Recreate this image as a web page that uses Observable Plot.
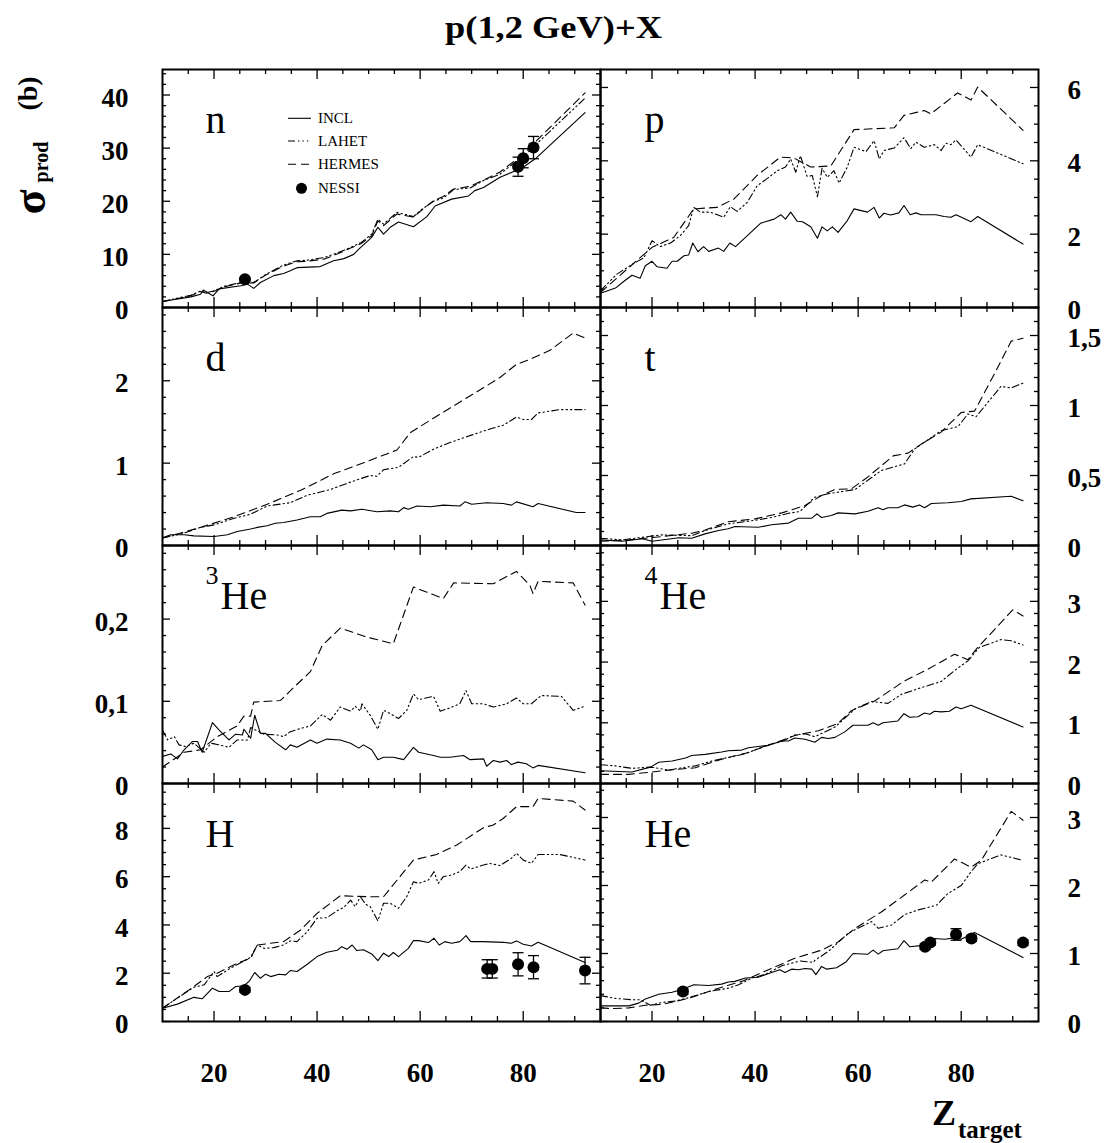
<!DOCTYPE html>
<html><head><meta charset="utf-8">
<script src="https://cdn.jsdelivr.net/npm/d3@7"></script>
<script src="https://cdn.jsdelivr.net/npm/@observablehq/plot@0.6"></script>
<style>
body{margin:0;background:#fff;}
#page{position:relative;width:1108px;height:1143px;overflow:hidden;background:#fff;font-family:"Liberation Serif","Times New Roman",serif;}
#page svg{position:absolute;left:0;top:0;}
</style></head><body><div id="page"></div>
<script>
// ---------- axes ----------
const zDomain = [10, 95];
const xMajor = [20, 40, 60, 80];
const xMinor = [15, 25, 30, 35, 45, 50, 55, 65, 70, 75, 85, 90];
const xTickLabels = ["20", "40", "60", "80"];

const panelNames = ["n", "p", "d", "t", "3He", "4He", "H", "He"];
const yMaxima = [44.8, 6.49, 2.89, 1.70, 0.2895, 3.92, 9.86, 3.5];
const yMajorTicks = [[0,10,20,30,40],[0,2,4,6],[0,1,2],[0,0.5,1,1.5],[0,0.1,0.2],[0,1,2,3],[0,2,4,6,8],[0,1,2,3]];
const yMinorSteps = [2, 0.5, 0.2, 0.1, 0.02, 0.2, 0.5, 0.2];
const seriesNames = ["INCL", "LAHET", "HERMES", "NESSI"];

// ---------- data: [Z_target, sigma_prod (b)] ----------
const n_INCL = [[10,1.13],[13,1.6],[15.5,2.0],[17.4,2.5],[17.9,3.3],[19.8,2.2],[21,3.5],[25.2,4.1],[26.5,4.4],[27.7,3.6],[29,4.7],[31.6,6],[33.5,6.4],[34.8,6.9],[36.1,7.5],[40.6,7.7],[43.2,8.8],[45.2,9.2],[47.1,10],[48.1,11],[50.6,13.2],[51.8,15.1],[52.9,13.8],[54.2,15.1],[55.8,16.1],[58.7,15.2],[61.3,17.1],[62.9,19.1],[66.1,20.4],[69.4,21],[70.6,22],[72.3,22.6],[75.5,24.5],[78.4,25.7],[80,26.4],[82.6,28.2],[92,36.7]];
const n_LAHET = [[10,1.13],[13,1.8],[15.5,2.3],[17.4,3.1],[18.5,2.8],[19.9,3.1],[22,4.0],[25.2,4.7],[27.7,4.7],[30,6.2],[33.5,8.0],[36.1,8.8],[38,8.9],[41.3,9.4],[44,10.3],[46.5,11.3],[48.5,12.2],[50.6,13.8],[51.8,16.6],[52.9,15.7],[55.5,17.9],[58.7,17.1],[60.5,18.6],[62.6,20],[64.5,20.6],[66.5,22.2],[69.7,22.5],[72.3,23.9],[75.5,25.1],[78.7,27.6],[80,28.3],[82.6,30.8],[92,39.4]];
const n_HERMES = [[10,1.1],[13,1.7],[15.5,2.2],[17.4,3.0],[18.5,2.7],[19.9,3.0],[22,3.9],[25.2,4.6],[27.7,4.6],[30,6.1],[33.5,7.8],[36.1,8.6],[38,8.7],[41.3,9.1],[44,10.1],[46.5,11.2],[48.5,12.0],[50.6,13.5],[51.8,16.3],[52.9,15.4],[55.5,17.6],[58.7,17.0],[60.5,18.5],[62.6,20.1],[64.5,20.9],[66.5,22.3],[69.7,22.8],[72.3,24],[75.5,25.5],[78.7,27.9],[80,28.8],[82.6,31.4],[92,40.4]];
const n_NESSI = [[26,5.3,0.3],[79,26.5,1.8],[80,28.1,1.8],[82,30.1,2.1]];

const p_INCL = [[10,0.39],[12.9,0.53],[14.5,0.71],[16.1,0.88],[17.7,0.8],[18.7,1.14],[20,1.26],[21,1.11],[22.9,1.07],[23.9,1.26],[24.9,1.26],[26.2,1.41],[27.1,1.43],[27.9,1.76],[28.9,1.52],[30,1.66],[31,1.53],[32.9,1.62],[33.9,1.53],[35.1,1.76],[36.2,1.66],[38.5,1.96],[41.1,2.3],[43.7,2.41],[45,2.53],[45.9,2.41],[46.9,2.6],[48.2,2.35],[49.2,2.34],[50.8,2.2],[52.1,1.89],[53,2.2],[54,2.09],[55,2.2],[56.1,2.05],[57.9,2.37],[59.2,2.69],[61.8,2.6],[63.1,2.73],[64.1,2.44],[65,2.57],[66.3,2.52],[67.9,2.58],[68.9,2.78],[70.1,2.53],[71.2,2.58],[72.2,2.53],[75.1,2.53],[76.7,2.48],[78,2.46],[79,2.53],[81.9,2.34],[83.2,2.48],[92,1.73]];
const p_LAHET = [[10,0.46],[13.2,0.91],[16.4,1.2],[18.4,1.35],[20,1.82],[21.6,1.66],[23.6,1.76],[25.5,1.96],[27.1,2.23],[28.1,2.73],[29.4,2.6],[31.3,2.6],[33.9,2.46],[35.2,2.75],[36.5,2.62],[38.5,2.87],[40.4,3.32],[42.4,3.52],[44.3,3.73],[45.9,3.83],[46.9,4.05],[47.9,3.69],[48.8,4.14],[50.1,3.57],[51.1,3.6],[52.1,3.02],[53,3.8],[54,3.55],[55.3,3.73],[56.3,3.39],[57.9,3.83],[59.2,4.37],[61.5,4.25],[63.1,4.55],[64.1,4.05],[65,4.28],[67,4.35],[68.9,4.63],[70.2,4.33],[71.2,4.51],[72.8,4.37],[74.8,4.44],[76.1,4.28],[77,4.48],[78,4.44],[79,4.57],[81.9,4.1],[83.2,4.44],[92,3.92]];
const p_HERMES = [[10,0.41],[16.4,1.2],[20,1.64],[24.2,1.91],[28.1,2.69],[32.6,2.73],[35.9,2.96],[40.4,3.6],[44.9,4.1],[47.5,4.08],[50.8,3.83],[54.7,3.86],[59.2,4.85],[67,4.9],[68.9,5.24],[72.8,5.37],[74.1,5.28],[79.3,5.85],[81.9,5.66],[83.2,6.01],[92,4.83]];

const d_INCL = [[10,0.093],[11.6,0.13],[14.2,0.13],[16.1,0.117],[20,0.109],[22.6,0.13],[24.5,0.17],[27.1,0.2],[28.4,0.22],[30.3,0.24],[31.9,0.27],[33.5,0.28],[36.1,0.31],[38.7,0.35],[40.6,0.35],[41.9,0.39],[44.8,0.43],[46.5,0.42],[48.7,0.44],[51.6,0.41],[54.2,0.42],[55.8,0.41],[56.8,0.46],[57.7,0.44],[59.4,0.48],[62,0.47],[64.5,0.49],[67.7,0.48],[68.7,0.53],[70,0.5],[72.9,0.52],[76.1,0.51],[77.7,0.49],[78.7,0.53],[81.9,0.47],[82.9,0.51],[90.3,0.4],[92,0.4]];
const d_LAHET = [[10,0.09],[14.2,0.15],[17.4,0.22],[20,0.25],[23.9,0.33],[27.1,0.38],[30.3,0.48],[34.8,0.52],[38.1,0.61],[42.6,0.68],[46.5,0.77],[50.3,0.85],[51.6,0.84],[52.9,0.92],[55.8,0.95],[58.7,1.08],[59.7,1.07],[62.6,1.17],[65.8,1.25],[69,1.32],[72.3,1.39],[75.5,1.45],[76.1,1.46],[78.7,1.56],[80,1.53],[81.6,1.53],[82.9,1.61],[87.1,1.65],[92,1.65]];
const d_HERMES = [[10,0.09],[17.4,0.22],[23.9,0.35],[30.3,0.5],[36.8,0.67],[43.2,0.87],[49.7,1.02],[55.5,1.16],[58.1,1.37],[63.2,1.57],[69,1.79],[75.5,2.04],[78.7,2.2],[81.3,2.26],[85.2,2.37],[89.7,2.58],[92,2.52]];

const t_INCL = [[10,0.04],[14.2,0.03],[18.1,0.048],[20,0.03],[25.2,0.055],[27.7,0.052],[30.3,0.083],[32.9,0.107],[34.8,0.12],[36.1,0.136],[40.6,0.13],[43.2,0.148],[46.5,0.16],[48.4,0.195],[51,0.195],[52,0.226],[52.9,0.2],[54.8,0.214],[56.1,0.233],[59.4,0.226],[61.9,0.245],[63.9,0.27],[64.8,0.255],[65.8,0.27],[67.7,0.27],[69,0.29],[70.6,0.274],[71.9,0.29],[72.9,0.27],[74.2,0.3],[77.4,0.305],[80,0.314],[81.9,0.333],[89.7,0.352],[92,0.32]];
const t_LAHET = [[10,0.052],[14.2,0.04],[17.4,0.055],[21.9,0.076],[27.7,0.07],[30.3,0.107],[34.8,0.155],[40,0.18],[43.2,0.2],[46.5,0.23],[48.7,0.243],[51.6,0.345],[54.2,0.37],[59.4,0.4],[64.5,0.536],[69,0.583],[71,0.69],[76.1,0.82],[79.4,0.85],[81.3,0.94],[82.9,0.92],[87.7,1.136],[89.7,1.126],[92,1.16]];
const t_HERMES = [[10,0.03],[15.5,0.04],[21.9,0.064],[27.7,0.088],[30.3,0.11],[34.8,0.17],[40,0.19],[45.2,0.233],[49.7,0.286],[52.9,0.357],[55.5,0.4],[58.7,0.405],[61.9,0.49],[66.8,0.64],[69.7,0.66],[72.3,0.726],[76.1,0.81],[80,0.95],[82.6,0.96],[86.5,1.23],[89.7,1.46],[92,1.48]];

const he3_INCL = [[10,0.033],[11.6,0.036],[12.9,0.03],[14.2,0.041],[15.8,0.051],[16.8,0.051],[17.7,0.038],[19.7,0.074],[21,0.065],[22.9,0.053],[24.2,0.06],[25.5,0.059],[25.8,0.066],[27.1,0.055],[27.9,0.083],[29,0.061],[30,0.061],[31.9,0.05],[33.9,0.041],[34.8,0.047],[36.1,0.044],[38.7,0.053],[40,0.049],[41.9,0.054],[44.5,0.053],[46.5,0.049],[48.1,0.043],[49,0.047],[50.6,0.041],[51.8,0.029],[52.9,0.032],[54.8,0.032],[56.8,0.029],[58.7,0.044],[59.7,0.038],[62.6,0.034],[63.9,0.032],[65.8,0.032],[68.4,0.034],[69.7,0.029],[72.3,0.03],[72.9,0.021],[74.2,0.028],[75.5,0.026],[76.8,0.028],[77.7,0.023],[79,0.026],[80.6,0.024],[81.9,0.019],[82.9,0.022],[92,0.013]];
const he3_LAHET = [[10,0.065],[11,0.053],[12.3,0.057],[13.2,0.047],[14.5,0.045],[16.1,0.049],[18.1,0.038],[19.4,0.049],[21,0.047],[22.9,0.044],[24.5,0.053],[26.5,0.053],[27.1,0.068],[29.7,0.06],[32.3,0.059],[33.5,0.057],[34.8,0.063],[36.8,0.067],[38.7,0.07],[41,0.084],[42.6,0.077],[44.5,0.093],[46.5,0.088],[47.4,0.094],[48.4,0.088],[48.7,0.097],[50.3,0.083],[51.8,0.066],[52.9,0.089],[54.2,0.085],[55.8,0.079],[57.4,0.089],[58.7,0.109],[59.7,0.102],[62.6,0.106],[63.9,0.088],[65.8,0.092],[67.7,0.097],[68.9,0.113],[70,0.097],[72.3,0.097],[74.2,0.093],[76.8,0.097],[78.7,0.104],[80,0.097],[81.6,0.097],[83.5,0.107],[87.4,0.106],[89.7,0.089],[92,0.094]];
const he3_HERMES = [[10,0.02],[14.2,0.038],[17.4,0.041],[20.6,0.057],[24.5,0.07],[25.8,0.082],[27.1,0.082],[27.7,0.099],[32.9,0.101],[35.5,0.117],[38.7,0.136],[41,0.168],[44.5,0.189],[49.7,0.178],[54.8,0.17],[58.7,0.239],[64.5,0.225],[66.5,0.244],[74.2,0.243],[78.7,0.258],[81.3,0.241],[81.9,0.231],[82.9,0.246],[89.7,0.244],[92,0.217]];

const he4_INCL = [[10,0.21],[16.1,0.19],[19.7,0.27],[21.3,0.35],[23.9,0.37],[26.5,0.42],[27.7,0.46],[30.3,0.48],[33.5,0.52],[34.8,0.54],[37.4,0.55],[38.7,0.59],[42.6,0.63],[45.2,0.7],[46.5,0.7],[47.7,0.75],[49.7,0.73],[51.6,0.68],[52.9,0.76],[54.2,0.74],[55.5,0.76],[57.4,0.85],[59,0.96],[61.9,0.96],[62.9,1.0],[63.9,0.96],[64.8,1.0],[67.7,1.03],[68.9,1.15],[70,1.09],[71.6,1.1],[72.9,1.16],[73.9,1.14],[74.8,1.19],[76.1,1.18],[77.7,1.19],[79,1.26],[80,1.23],[81.9,1.29],[92,0.93]];
const he4_LAHET = [[10,0.31],[12.9,0.29],[16.1,0.25],[19.7,0.27],[21.3,0.25],[23.2,0.22],[25.8,0.26],[28.4,0.29],[31.6,0.37],[34.8,0.43],[38.1,0.49],[42.6,0.64],[45.2,0.69],[47.7,0.8],[49.7,0.82],[51.6,0.77],[55.5,0.93],[59.4,1.23],[62.6,1.35],[65.8,1.32],[68.4,1.47],[72.3,1.58],[76.1,1.68],[78.7,1.86],[81.3,2.02],[83.5,2.24],[87.7,2.37],[89.7,2.35],[92,2.28]];
const he4_HERMES = [[10,0.15],[15.5,0.15],[20,0.19],[23.2,0.22],[28.4,0.26],[33.5,0.4],[38.7,0.51],[43.2,0.65],[47.7,0.79],[52.3,0.87],[56.1,0.99],[58.7,1.2],[63.2,1.36],[69,1.69],[73.5,1.88],[78.7,2.13],[81.3,2.04],[83.2,2.24],[86.5,2.54],[90,2.86],[92,2.76]];

const H_INCL = [[10,0.55],[12.9,0.72],[16.1,1.0],[17.7,0.94],[19.7,1.38],[21,1.24],[22.9,1.24],[24.2,1.45],[25.8,1.48],[26.8,1.66],[27.9,2.03],[29,1.79],[30,1.96],[31,1.86],[32.6,1.96],[33.9,1.93],[34.8,2.11],[36.1,2.07],[38.1,2.37],[40,2.69],[41.9,2.87],[43.9,2.95],[44.8,3.1],[45.8,2.99],[46.8,3.17],[47.7,2.94],[49,2.97],[50.6,2.8],[51.8,2.52],[52.9,2.83],[53.9,2.69],[54.8,2.86],[55.8,2.69],[57.7,3.03],[58.7,3.35],[59.7,3.35],[61.6,3.27],[62.7,3.45],[63.7,3.17],[64.8,3.31],[66.1,3.24],[67.7,3.31],[68.9,3.56],[69.8,3.31],[72.3,3.31],[76.1,3.28],[77.7,3.24],[78.7,3.34],[80,3.2],[81.6,3.13],[82.9,3.28],[92,2.44]];
const H_LAHET = [[10,0.55],[12.9,0.97],[16.1,1.42],[18.1,1.52],[20,2.07],[20.6,1.86],[23.2,2.21],[24.8,2.39],[27.1,2.66],[28.4,3.17],[29.7,3.03],[31.6,3.06],[33.5,3.17],[34.8,3.34],[36.1,3.31],[38.1,3.72],[40,4.28],[41.9,4.3],[43.9,4.59],[45.2,4.73],[46.5,5.03],[47.4,4.76],[48.4,5.17],[49.4,4.86],[50.3,4.76],[51.8,4.17],[52.9,4.9],[54.2,4.9],[55.8,4.69],[57.4,5.17],[58.7,5.79],[59.7,5.72],[61.6,5.86],[62.7,6.21],[63.5,5.72],[64.5,6.0],[66.1,6.07],[67.7,6.21],[68.9,6.48],[69.8,6.32],[72.3,6.48],[73.5,6.55],[75.5,6.46],[77.7,6.76],[78.7,6.97],[80,6.69],[81.6,6.55],[82.9,6.92],[87.1,6.92],[92,6.69]];
const H_HERMES = [[10,0.55],[16.1,1.45],[18.7,1.86],[20.6,2.0],[24.5,2.41],[27.1,2.62],[28.4,3.17],[33.5,3.31],[36.8,3.79],[40,4.48],[44.5,5.21],[49.7,5.17],[52.9,5.17],[58.7,6.69],[63.2,6.92],[67.1,7.31],[72.3,8.03],[74.2,8.14],[76.1,8.41],[78.7,8.9],[81.9,8.9],[82.9,9.24],[89.7,9.13],[92,8.76]];
const H_NESSI = [[26,1.31,0.1],[73,2.18,0.38],[74,2.18,0.38],[79,2.37,0.48],[82,2.25,0.48],[92,2.11,0.55]];

const He_INCL = [[10,0.23],[15.5,0.23],[17.4,0.27],[18.7,0.33],[21.3,0.4],[23.9,0.43],[25.8,0.47],[28.1,0.54],[31,0.53],[33.5,0.55],[34.8,0.58],[36.1,0.59],[38.1,0.64],[40.6,0.65],[43.2,0.72],[44.8,0.76],[45.8,0.72],[47.1,0.77],[48.4,0.76],[49.7,0.78],[51,0.77],[51.8,0.69],[52.9,0.81],[53.9,0.77],[55.8,0.79],[57.7,0.88],[59,1.0],[61.9,0.99],[62.9,1.05],[63.9,0.99],[64.8,1.04],[67.7,1.07],[68.9,1.19],[70,1.1],[72.6,1.12],[73.5,1.2],[74.8,1.22],[76.8,1.21],[78.7,1.23],[80,1.21],[82.6,1.31],[92,0.94]];
const He_LAHET = [[10,0.38],[12.9,0.34],[16.1,0.32],[17.7,0.32],[19.7,0.24],[21.9,0.28],[24.5,0.3],[27.1,0.35],[31,0.44],[34.8,0.49],[36.8,0.54],[39.4,0.64],[41.9,0.69],[45.2,0.82],[48.7,0.89],[51.3,0.87],[51.6,0.9],[54.2,1.03],[58.1,1.3],[62.6,1.47],[63.9,1.37],[66.5,1.42],[69,1.57],[71.6,1.64],[75.2,1.71],[77.4,1.88],[80,2.0],[81.9,2.2],[83.2,2.32],[87.7,2.45],[92,2.37]];
const He_HERMES = [[10,0.2],[12.3,0.19],[15.5,0.2],[18.7,0.24],[21.9,0.25],[27.1,0.34],[32.9,0.49],[37.4,0.59],[42.6,0.76],[47.7,0.93],[52.9,1.05],[56.1,1.17],[59.4,1.37],[64.5,1.61],[69,1.86],[72.9,2.08],[74.2,2.05],[78.7,2.39],[81.9,2.27],[83.9,2.37],[89.7,3.09],[92,2.96]];
const He_NESSI = [[26,0.44,0.04],[73,1.1,0.04],[74,1.16,0.04],[79,1.28,0.085],[82,1.22,0.04],[92,1.16,0.04]];

const curves = [
  [n_INCL, n_LAHET, n_HERMES, n_NESSI],
  [p_INCL, p_LAHET, p_HERMES, []],
  [d_INCL, d_LAHET, d_HERMES, []],
  [t_INCL, t_LAHET, t_HERMES, []],
  [he3_INCL, he3_LAHET, he3_HERMES, []],
  [he4_INCL, he4_LAHET, he4_HERMES, []],
  [H_INCL, H_LAHET, H_HERMES, H_NESSI],
  [He_INCL, He_LAHET, He_HERMES, He_NESSI]
];

// ---------- styles ----------
const FONT = "'Liberation Serif','Times New Roman',serif";
const dashes = [null, "7,3,1.4,3,1.4,3,1.4,3", "8,5"];
const fmt = d => String(d).replace(".", ",");
const COLS = [[162, 600], [600, 1038]];
const ROW_TOP = 69, ROW_H = 238;
const PAGE_W = 1108, PAGE_H = 1143;

const page = document.getElementById("page");

const capSymbol = {draw(ctx, size) { const w = Math.sqrt(size / Math.PI); ctx.moveTo(-w, 0); ctx.lineTo(w, 0); }};

panelNames.forEach((name, i) => {
  const col = i % 2, row = Math.floor(i / 2);
  const [fl, fr] = COLS[col];
  const ft = ROW_TOP + row * ROW_H, fb = ft + ROW_H;
  const W = fr - fl, H = fb - ft;
  const ymax = yMaxima[i], majors = yMajorTicks[i], step = yMinorSteps[i];
  const minors = d3.range(0, Math.floor(ymax / step + 1e-6) + 1)
    .map(k => Math.round(k * step * 1e6) / 1e6)
    .filter(v => v <= ymax && !majors.some(m => Math.abs(m - v) < 1e-9));
  const [inc, lah, her, nes] = curves[i];
  const tk = {stroke: "black", strokeWidth: 1.3};
  const marks = [
    Plot.tickY(majors, {y: d => d, insetRight: W - 8, ...tk}),
    Plot.tickY(majors, {y: d => d, insetLeft: W - 8, ...tk}),
    Plot.tickY(minors, {y: d => d, insetRight: W - 4, ...tk}),
    Plot.tickY(minors, {y: d => d, insetLeft: W - 4, ...tk}),
    Plot.tickX(xMajor, {x: d => d, insetTop: H - 10, ...tk}),
    Plot.tickX(xMajor, {x: d => d, insetBottom: H - 10, ...tk}),
    Plot.tickX(xMinor, {x: d => d, insetTop: H - 5, ...tk}),
    Plot.tickX(xMinor, {x: d => d, insetBottom: H - 5, ...tk}),
    Plot.axisY({anchor: col === 0 ? "left" : "right", ticks: majors, tickSize: 0,
      tickPadding: col === 0 ? 34 : 29, tickFormat: fmt, fontSize: 27, fontWeight: "bold",
      dy: 3, label: null, fill: "black"}),
    ...[inc, lah, her].map((s, k) => Plot.line(s, {x: d => d[0], y: d => d[1], stroke: "black",
      strokeWidth: 1.1, strokeDasharray: dashes[k], clip: true})),
    Plot.ruleX(nes, {x: d => d[0], y1: d => d[1] - d[2], y2: d => d[1] + d[2], stroke: "black", strokeWidth: 1.3}),
    Plot.dot(nes, {x: d => d[0], y: d => d[1] + d[2], symbol: capSymbol, r: 5.5, stroke: "black", strokeWidth: 1.3, fill: "none"}),
    Plot.dot(nes, {x: d => d[0], y: d => d[1] - d[2], symbol: capSymbol, r: 5.5, stroke: "black", strokeWidth: 1.3, fill: "none"}),
    Plot.dot(nes, {x: d => d[0], y: d => d[1], r: 6, fill: "black", stroke: "none"}),
    Plot.frame({stroke: "black", strokeWidth: 2})
  ];
  // panel label
  const dx0 = col === 0 ? 43 : 44;
  if (name.length === 3 && /^\d/.test(name)) {
    marks.push(Plot.text([name[0]], {text: d => d, frameAnchor: "top-left", textAnchor: "start", lineAnchor: "top",
      dx: dx0, dy: 20, fontSize: 26, fill: "black"}));
    marks.push(Plot.text([name.slice(1)], {text: d => d, frameAnchor: "top-left", textAnchor: "start", lineAnchor: "top",
      dx: dx0 + 15, dy: 35, fontSize: 40, fill: "black"}));
  } else {
    marks.push(Plot.text([name], {text: d => d, frameAnchor: "top-left", textAnchor: "start", lineAnchor: "top",
      dx: dx0, dy: 35, fontSize: 40, fill: "black"}));
  }
  if (row === 3) {
    marks.push(Plot.axisX({anchor: "bottom", ticks: xMajor, tickSize: 0, tickPadding: 41,
      tickFormat: (d, j) => xTickLabels[xMajor.indexOf(d)], fontSize: 27, fontWeight: "bold", label: null, fill: "black"}));
  }
  const svg = Plot.plot({
    width: PAGE_W, height: PAGE_H,
    marginLeft: fl, marginRight: PAGE_W - fr, marginTop: ft, marginBottom: PAGE_H - fb,
    x: {domain: zDomain, axis: null},
    y: {domain: [0, ymax], axis: null},
    style: {background: "none", overflow: "visible", fontFamily: FONT, color: "black"},
    marks
  });
  page.appendChild(svg);
});

// ---------- title, axis titles, legend ----------
const ov = d3.select(page).append("svg").attr("width", PAGE_W).attr("height", PAGE_H)
  .style("font-family", FONT).style("overflow", "visible");
ov.append("text").attr("x", 553.5).attr("y", 38).attr("text-anchor", "middle")
  .attr("font-size", 31).attr("font-weight", "bold")
  .attr("textLength", 217).attr("lengthAdjust", "spacingAndGlyphs").text("p(1,2 GeV)+X");

const ylab = [["σ", 45, 202, 46], ["prod", 48, 162, 20], ["(b)", 37, 93.5, 28]];
ylab.forEach(([t, x, y, fs]) => ov.append("text")
  .attr("transform", `translate(${x},${y}) rotate(-90)`).attr("text-anchor", "middle")
  .attr("font-size", fs).attr("font-weight", "bold").text(t));

ov.append("text").attr("x", 932).attr("y", 1125).attr("font-size", 36).attr("font-weight", "bold").text("Z");
ov.append("text").attr("x", 958).attr("y", 1138).attr("font-size", 25).attr("font-weight", "bold").text("target");

const legY = [118.3, 141, 164.3, 188.3];
seriesNames.forEach((s, k) => {
  const y = legY[k];
  if (k < 3) {
    ov.append("line").attr("x1", 288).attr("x2", 311).attr("y1", y).attr("y2", y)
      .attr("stroke", "black").attr("stroke-width", 1.1)
      .attr("stroke-dasharray", dashes[k] || null);
  } else {
    ov.append("circle").attr("cx", 301.5).attr("cy", y).attr("r", 5.5).attr("fill", "black");
  }
  ov.append("text").attr("x", 318).attr("y", y + 5).attr("font-size", 15).text(s);
});
</script></body></html>
